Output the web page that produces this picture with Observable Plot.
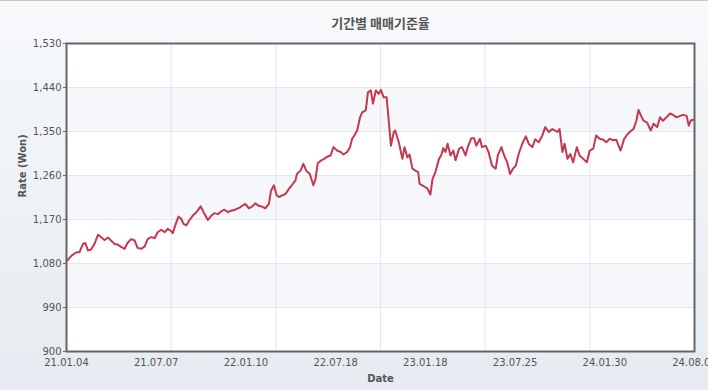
<!DOCTYPE html>
<html>
<head>
<meta charset="utf-8">
<script src="https://cdn.jsdelivr.net/npm/d3@7"></script>
<script src="https://cdn.jsdelivr.net/npm/@observablehq/plot@0.6"></script>
<style>
  html, body { margin: 0; padding: 0; }
  body { width: 708px; height: 390px; overflow: hidden; position: relative;
         background: linear-gradient(180deg, #f7f9fb 0%, #e5ebf0 100%); }
  #topline { position: absolute; left: 0; top: 0; width: 708px; height: 1px; background: #c4c8cc; }
  #chart svg { display: block; }
</style>
</head>
<body>
<div id="topline"></div>
<div id="chart"></div>
<script>
// Tick labels (category axis of trading days, one label every 125 days)
const labelIdx = [0, 125, 250, 375, 500, 625, 750, 875];
const dateLabels = ["21.01.04", "21.07.07", "22.01.10", "22.07.18", "23.01.18", "23.07.25", "24.01.30", "24.08.06"];
const yTicks = [900, 990, 1080, 1170, 1260, 1350, 1440, 1530];

// Trading-day index and exchange rate (KRW per USD)
const days = [
  1, 7, 14, 18, 23, 26, 30, 34, 39, 44, 48, 53, 58, 62, 67, 71, 76, 81, 85, 90,
  95, 99, 104, 109, 113, 118, 123, 127, 132, 137, 141, 146, 148, 153, 156, 160, 163, 167, 171, 176,
  181, 187, 191, 197, 202, 206, 211, 216, 220, 225, 229, 235, 242, 249, 254, 259, 263, 268, 273, 277,
  282, 285, 289, 293, 296, 300, 305, 310, 314, 319, 321, 326, 330, 334, 339, 344, 347, 350, 355, 359,
  364, 368, 372, 377, 382, 386, 391, 395, 398, 401, 405, 409, 412, 417, 420, 424, 427, 431, 435, 438,
  442, 446, 449, 452, 456, 458, 463, 468, 471, 475, 478, 482, 486, 490, 492, 498, 503, 507, 510, 514,
  519, 522, 525, 528, 531, 535, 539, 542, 547, 551, 556, 559, 564, 568, 571, 576, 579, 584, 588, 593,
  598, 601, 606, 609, 614, 618, 622, 626, 630, 635, 640, 644, 649, 653, 658, 663, 667, 672, 677, 684,
  687, 691, 694, 698, 702, 706, 711, 715, 720, 725, 729, 734, 738, 743, 748, 752, 757, 762, 766, 772,
  777, 782, 787, 790, 794, 797, 801, 804, 809, 814, 818, 823, 827, 831, 836, 841, 845, 850, 855, 859,
  864, 867, 870, 874
];
const rates = [
  1086, 1096, 1103, 1103, 1120, 1122, 1107, 1108, 1120, 1139, 1134, 1128, 1133, 1127, 1120, 1119, 1114, 1110, 1122, 1130,
  1127, 1112, 1110, 1115, 1130, 1134, 1132, 1144, 1149, 1144, 1151, 1146, 1142, 1164, 1176, 1171, 1161, 1158, 1168, 1178,
  1185, 1197, 1185, 1169, 1178, 1183, 1181, 1187, 1190, 1185, 1188, 1190, 1195, 1202, 1193, 1197, 1203, 1198, 1196, 1193,
  1202, 1229, 1240, 1219, 1216, 1219, 1222, 1233, 1240, 1250, 1263, 1270, 1284, 1270, 1263, 1240, 1253, 1285, 1291, 1294,
  1299, 1301, 1318, 1311, 1308, 1303, 1308, 1318, 1335, 1342, 1352, 1379, 1389, 1393, 1430, 1434, 1407, 1434, 1427, 1435,
  1420, 1420, 1372, 1321, 1349, 1352, 1328, 1294, 1318, 1297, 1303, 1274, 1270, 1267, 1243, 1238, 1233, 1221, 1253, 1267,
  1294, 1301, 1316, 1308, 1325, 1301, 1311, 1291, 1315, 1318, 1301, 1318, 1336, 1336, 1321, 1335, 1318, 1321, 1308, 1280,
  1274, 1301, 1318, 1304, 1287, 1263, 1274, 1280, 1304, 1325, 1340, 1325, 1318, 1334, 1328, 1342, 1359, 1349, 1355, 1349,
  1355, 1308, 1325, 1294, 1304, 1287, 1318, 1301, 1294, 1287, 1311, 1315, 1342, 1335, 1333, 1328, 1335, 1332, 1333, 1311,
  1335, 1345, 1352, 1355, 1372, 1394, 1381, 1372, 1368, 1352, 1366, 1359, 1379, 1372, 1379, 1387, 1384, 1379, 1382, 1384,
  1382, 1362, 1373, 1374
];

const xMax = labelIdx[labelIdx.length - 1];
const gridX = d3.range(1, 6).map(i => i * xMax / 6);
const bands = yTicks.slice(0, -1)
  .map((lo, i) => ({lo, hi: yTicks[i + 1], i}))
  .filter(b => b.i % 2 === 1);

const textColor = "#555";
const chart = Plot.plot({
  width: 708,
  height: 390,
  marginTop: 43,
  marginBottom: 39,
  marginLeft: 66,
  marginRight: 14,
  x: {domain: [0, xMax]},
  y: {domain: [yTicks[0], yTicks[yTicks.length - 1]]},
  style: {fontFamily: "DejaVu Sans", fontSize: "10px", color: textColor, background: "transparent", overflow: "visible"},
  marks: [
    Plot.frame({fill: "white"}),
    Plot.rect(bands, {y1: "lo", y2: "hi", fill: "#f5f7fa"}),
    Plot.ruleY(yTicks, {stroke: "#e4e7eb"}),
    Plot.ruleX(gridX, {stroke: "#e4e7eb"}),
    Plot.line(rates, {x: (d, i) => days[i], y: d => d, stroke: "#c5384f", strokeWidth: 2, curve: "linear"}),
    Plot.frame({stroke: "#666", strokeWidth: 2}),
    Plot.axisY(yTicks, {tickSize: 3, tickPadding: 2, tickFormat: d3.format(","), label: null, stroke: "#666", fill: textColor}),
    Plot.axisX(labelIdx, {tickSize: 0, tickPadding: 7, tickFormat: d => dateLabels[labelIdx.indexOf(d)], label: null, fill: textColor}),
    Plot.text(["기간별 매매기준율"], {frameAnchor: "top", dy: -25, fontSize: 13, fontWeight: "bold", fontFamily: "Noto Sans CJK KR", fill: textColor}),
    Plot.text(["Date"], {frameAnchor: "bottom", dy: 30, fontSize: 10, fontWeight: "bold", fill: textColor}),
    Plot.text(["Rate (Won)"], {frameAnchor: "left", dx: -44, rotate: -90, fontSize: 10, fontWeight: "bold", fill: textColor})
  ]
});
document.getElementById("chart").appendChild(chart);
</script>
</body>
</html>
